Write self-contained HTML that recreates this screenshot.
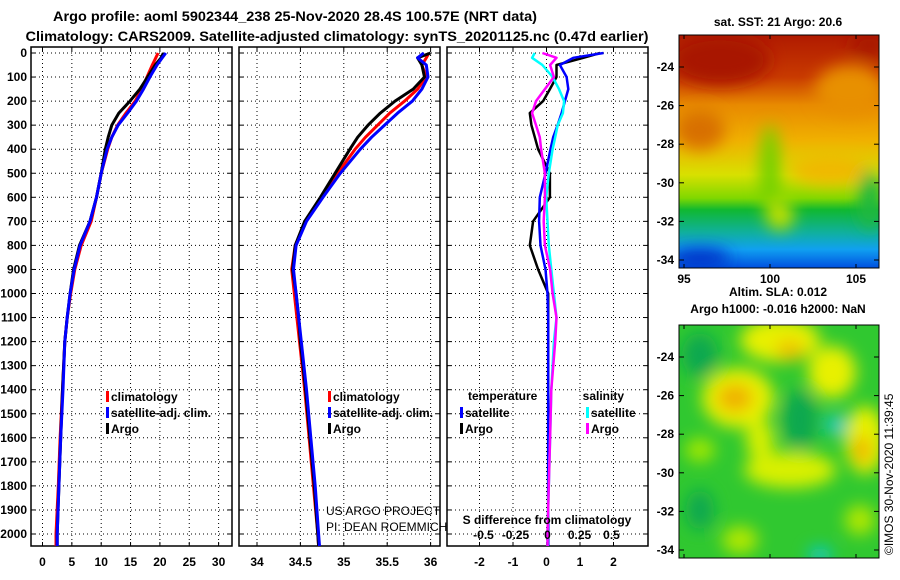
<!DOCTYPE html>
<html><head><meta charset="utf-8">
<style>
html,body{margin:0;padding:0;background:#fff;}
svg{display:block;font-family:"Liberation Sans",Arial,sans-serif;}
.t{font-weight:bold;font-size:12px;}
</style></head>
<body>
<svg id="fig" width="900" height="580" viewBox="0 0 900 580" xmlns="http://www.w3.org/2000/svg">
<defs>
<filter id="b8" x="-50%" y="-50%" width="200%" height="200%"><feGaussianBlur stdDeviation="8"/></filter>
<clipPath id="m1c"><rect x="679" y="35" width="200" height="233"/></clipPath>
<clipPath id="m2c"><rect x="679" y="325" width="200" height="233"/></clipPath>
<linearGradient id="sst" x1="0" y1="0" x2="0" y2="1">
<stop offset="0" stop-color="#b01a00"/><stop offset="0.18" stop-color="#c83a00"/>
<stop offset="0.3" stop-color="#e88a00"/><stop offset="0.45" stop-color="#f0b000"/>
<stop offset="0.6" stop-color="#d8e000"/><stop offset="0.7" stop-color="#80d800"/>
<stop offset="0.75" stop-color="#10b830"/><stop offset="0.85" stop-color="#10b0a0"/>
<stop offset="0.92" stop-color="#10a0f0"/><stop offset="1" stop-color="#0050e0"/>
</linearGradient>
</defs>
<g>
<text class="t" x="295" y="21" text-anchor="middle" textLength="484" lengthAdjust="spacingAndGlyphs" style="font-size:14px">Argo profile: aoml 5902344_238 25-Nov-2020 28.4S 100.57E (NRT data)</text>
<text class="t" x="337" y="41" text-anchor="middle" textLength="623" lengthAdjust="spacingAndGlyphs" style="font-size:14px">Climatology: CARS2009. Satellite-adjusted climatology: synTS_20201125.nc (0.47d earlier)</text>
</g>
<g id="panels"></g>

<g>
<text class="t" x="778" y="26" text-anchor="middle">sat. SST: 21 Argo: 20.6</text>
<g clip-path="url(#m1c)">
<rect x="679" y="35" width="200" height="233" fill="url(#sst)"/>
<g filter="url(#b8)">
<ellipse cx="720" cy="60" rx="50" ry="25" fill="#a81800"/>
<ellipse cx="870" cy="45" rx="20" ry="12" fill="#a81800"/>
<ellipse cx="850" cy="90" rx="35" ry="25" fill="#e89000"/>
<ellipse cx="700" cy="130" rx="25" ry="20" fill="#d87000"/>
<ellipse cx="770" cy="170" rx="10" ry="45" fill="#70d000"/>
<ellipse cx="830" cy="170" rx="40" ry="15" fill="#f0b800"/>
<ellipse cx="870" cy="200" rx="12" ry="30" fill="#20b840"/>
<ellipse cx="700" cy="258" rx="30" ry="10" fill="#0030c8"/>
<ellipse cx="780" cy="215" rx="14" ry="15" fill="#c0e000"/>
</g>
</g>
<rect x="679" y="35" width="200" height="233" fill="none" stroke="#000"/>
</g>
<g id="map1axis"></g>

<g>
<text class="t" x="778" y="296" text-anchor="middle">Altim. SLA: 0.012</text>
<text class="t" x="778" y="313" text-anchor="middle">Argo h1000: -0.016 h2000: NaN</text>
<g clip-path="url(#m2c)">
<rect x="679" y="325" width="200" height="233" fill="#30c830"/>
<g filter="url(#b8)">
<ellipse cx="780" cy="340" rx="40" ry="22" fill="#e8f000"/>
<ellipse cx="790" cy="350" rx="14" ry="10" fill="#f0c000"/>
<ellipse cx="738" cy="398" rx="36" ry="30" fill="#e8f000"/>
<ellipse cx="735" cy="398" rx="18" ry="14" fill="#f0b000"/>
<ellipse cx="832" cy="372" rx="24" ry="26" fill="#e8f000"/>
<ellipse cx="865" cy="440" rx="20" ry="34" fill="#e8f000"/>
<ellipse cx="862" cy="450" rx="7" ry="14" fill="#f0a000"/>
<ellipse cx="790" cy="470" rx="46" ry="18" fill="#d8f000"/>
<ellipse cx="760" cy="440" rx="14" ry="20" fill="#d8f000"/>
<ellipse cx="700" cy="450" rx="15" ry="12" fill="#a0e800"/>
<ellipse cx="740" cy="540" rx="18" ry="14" fill="#b0e800"/>
<ellipse cx="860" cy="520" rx="15" ry="15" fill="#b0e800"/>
<ellipse cx="800" cy="420" rx="18" ry="30" fill="#10a850"/>
<ellipse cx="700" cy="355" rx="18" ry="22" fill="#10a850"/>
<ellipse cx="700" cy="510" rx="14" ry="20" fill="#10a850"/>
<ellipse cx="836" cy="425" rx="10" ry="10" fill="#10c8d0"/>
<ellipse cx="820" cy="555" rx="12" ry="8" fill="#10c8d0"/>
</g>
</g>
<rect x="679" y="325" width="200" height="233" fill="none" stroke="#000"/>
</g>
<g id="map2axis"></g>
<text x="893" y="555" font-size="12" transform="rotate(-90 893 555)">©IMOS 30-Nov-2020 11:39:45</text>
</svg>
<script>
const depths   = [0,20,50,100,150,200,250,300,350,400,500,600,700,800,900,1000,1100,1200,1400,1600,1800,2000,2050];
const tempArgo = [20.6,20.2,19.2,17.9,16.6,14.9,13.0,11.8,11.2,10.7,10.0,9.2,8.1,6.3,5.3,4.7,4.2,3.8,3.4,3.1,2.8,2.5,2.5];
const tempClim = [19.7,19.3,18.7,17.8,16.9,15.8,14.2,12.8,11.8,11.1,10.0,9.2,8.3,6.6,5.5,4.8,4.2,3.8,3.4,3.0,2.7,2.3,2.3];
const tempSat  = [21.0,20.4,19.5,18.3,17.2,16.0,14.5,12.9,11.8,11.0,10.0,9.2,8.1,6.4,5.4,4.7,4.2,3.8,3.5,3.1,2.8,2.5,2.5];
const salArgo  = [36.0,35.85,35.9,35.93,35.8,35.59,35.42,35.28,35.16,35.07,34.9,34.73,34.55,34.44,34.41,34.45,34.48,34.5,34.56,34.61,34.66,34.70,34.71];
const salClim  = [35.98,35.95,35.9,35.95,35.85,35.7,35.53,35.39,35.25,35.13,34.93,34.74,34.56,34.44,34.40,34.43,34.46,34.49,34.55,34.60,34.65,34.70,34.71];
const salSat   = [35.92,35.85,35.95,35.97,35.9,35.79,35.62,35.47,35.32,35.19,34.96,34.76,34.57,34.45,34.42,34.45,34.48,34.51,34.57,34.62,34.67,34.71,34.72];
const dTempArgo= [1.6,1.1,0.3,0.3,0.1,-0.1,-0.5,-0.45,-0.35,-0.25,0.1,0.1,-0.4,-0.5,-0.25,0.05,0.05,0.05,0.05,0.05,0.05,0.05,0.05];
const dTempSat = [1.7,0.8,0.4,0.6,0.65,0.55,0.45,0.33,0.2,0.12,-0.03,-0.2,-0.22,-0.18,-0.03,0.03,0.05,0.05,0.05,0.05,0.05,0.05,0.05];
const dSalSat  = [-0.10,-0.12,-0.04,0.04,0.09,0.13,0.12,0.08,0.06,0.04,0.01,-0.01,0.0,0.01,0.03,0.05,0.07,0.05,0.03,0.02,0.01,0.0,0.0];
const dSalArgo = [-0.04,0.07,0.02,0.05,-0.02,-0.09,-0.12,-0.09,-0.06,-0.05,-0.02,-0.02,-0.03,-0.02,0.02,0.04,0.07,0.06,0.03,0.02,0.01,0.0,0.0];
const depthTicks = [0,100,200,300,400,500,600,700,800,900,1000,1100,1200,1300,1400,1500,1600,1700,1800,1900,2000];
const tTicks = [0,5,10,15,20,25,30];
const sTicks = [34,34.5,35,35.5,36];
const dTicks = [-2,-1,0,1,2];
const dsTicks = [-0.5,-0.25,0,0.25,0.5];
const latTicks = [-24,-26,-28,-30,-32,-34];
const lonTicks = [95,100,105];

const NS='http://www.w3.org/2000/svg';
const panels=document.getElementById('panels');
function mk(tag,attrs,parent){const e=document.createElementNS(NS,tag);for(const k in attrs)e.setAttribute(k,attrs[k]);(parent||panels).appendChild(e);return e;}
const yD = d => 53 + d*0.2405;
const frameTop=47, frameBot=546;
const xT = v => 42.5 + v*5.87;
const xS = v => 257 + (v-34)*86.8;
const xDT = v => 546.5 + v*33.5;
const xDS = v => 547.5 + v*128;

function frame(x0,x1,ticks,fx,name){
  const g=mk('g',{});
  
  
  depthTicks.forEach(d=>{ mk('line',{x1:x0,x2:x1,y1:yD(d),y2:yD(d),stroke:'#000','stroke-dasharray':'1,3','stroke-width':1},g);
    mk('line',{x1:x0,x2:x0+4,y1:yD(d),y2:yD(d),stroke:'#000'},g); mk('line',{x1:x1-4,x2:x1,y1:yD(d),y2:yD(d),stroke:'#000'},g);});
  ticks.forEach(t=>{const x=fx(t); mk('line',{x1:x,x2:x,y1:frameTop,y2:frameBot,stroke:'#000','stroke-dasharray':'1,3'},g);
    mk('line',{x1:x,x2:x,y1:frameTop,y2:frameTop+4,stroke:'#000'},g);mk('line',{x1:x,x2:x,y1:frameBot-4,y2:frameBot,stroke:'#000'},g);
    const tx=mk('text',{x:x,y:566,'text-anchor':'middle','class':'t'},g); tx.textContent=String(t);
    
    });
  mk('rect',{x:x0,y:frameTop,width:x1-x0,height:frameBot-frameTop,fill:'none',stroke:'#000','stroke-width':1.5},g);
  return g;
}
function line(arr,fx,color,w,name){
  const pts=depths.map((d,i)=>fx(arr[i]).toFixed(1)+','+yD(d).toFixed(1)).join(' ');
  const p=mk('polyline',{points:pts,fill:'none',stroke:color,'stroke-width':w,'stroke-linejoin':'round'});
  
  
}
function label(x,y,txt,anchor,cls,name){const t=mk('text',{x:x,y:y,'text-anchor':anchor||'start','class':cls||'t'});t.textContent=txt;
  
  return t;}
function legend(x,y,color,txt,name){
  const g=mk('g',{});
  
  
  mk('rect',{x:x,y:y-10,width:3,height:11,fill:color},g);
  const t=mk('text',{x:x+5,y:y,'class':'t'},g);t.textContent=txt;
}

frame(31,232,tTicks,xT,'temperature-panel');
depthTicks.forEach(d=>label(27,yD(d)+4,String(d),'end','t','y-tick-label'));
line(tempClim,xT,'#ff0000',3,'temp-climatology-line');
line(tempArgo,xT,'#000',3,'temp-argo-line');
line(tempSat,xT,'#0000ff',3,'temp-satellite-line');
legend(106,401,'#f00','climatology','legend-climatology');
legend(106,417,'#00f','satellite-adj. clim.','legend-satellite');
legend(106,433,'#000','Argo','legend-argo');

frame(239,440,sTicks,xS,'salinity-panel');
line(salClim,xS,'#ff0000',3,'sal-climatology-line');
line(salArgo,xS,'#000',3,'sal-argo-line');
line(salSat,xS,'#0000ff',3,'sal-satellite-line');
legend(328,401,'#f00','climatology','legend-climatology-2');
legend(328,417,'#00f','satellite-adj. clim.','legend-satellite-2');
legend(328,433,'#000','Argo','legend-argo-2');
label(326,515,'US ARGO PROJECT','start','n','credit-project').setAttribute('font-size','12');
label(326,531,'PI: DEAN ROEMMICH','start','n','credit-pi').setAttribute('font-size','12');

frame(447,648,dTicks,xDT,'difference-panel');
line(dTempArgo,xDT,'#000',2.5,'dtemp-argo-line');
line(dTempSat,xDT,'#0000ff',2.5,'dtemp-satellite-line');
line(dSalSat,xDS,'#00ffff',2.5,'dsal-satellite-line');
line(dSalArgo,xDS,'#ff00ff',2.5,'dsal-argo-line');
label(468,400,'temperature','start','t','legend-temperature-title');
label(624,400,'salinity','end','t','legend-salinity-title');
legend(460,417,'#00f','satellite','legend-dtemp-sat');
legend(460,433,'#000','Argo','legend-dtemp-argo');
legend(586,417,'#0ff','satellite','legend-dsal-sat');
legend(586,433,'#f0f','Argo','legend-dsal-argo');
label(547,524,'S difference from climatology','middle','t','s-diff-axis-title');
dsTicks.forEach(t=>label(xDS(t),539,String(t),'middle','t','s-diff-tick'));

function mapAxis(y0,y1,lat24,gid,showLon){
  const g=document.getElementById(gid);
  latTicks.forEach(l=>{const y=lat24+(-24-l)*19.3;
    mk('line',{x1:679,x2:684,y1:y,y2:y,stroke:'#000'},g);mk('line',{x1:874,x2:879,y1:y,y2:y,stroke:'#000'},g);
    const t=mk('text',{x:674,y:y+4,'text-anchor':'end','class':'t'},g);t.textContent=String(l);
    
    });
  lonTicks.forEach(l=>{const x=684+(l-95)*17.2;
    mk('line',{x1:x,x2:x,y1:y0,y2:y0+4,stroke:'#000'},g);mk('line',{x1:x,x2:x,y1:y1-4,y2:y1,stroke:'#000'},g);
    if(showLon){const t=mk('text',{x:x,y:y1+15,'text-anchor':'middle','class':'t'},g);t.textContent=String(l);
    
    }});
}
mapAxis(35,268,67,'map1axis',true);
mapAxis(325,558,357,'map2axis',false);
</script>
</body></html>
